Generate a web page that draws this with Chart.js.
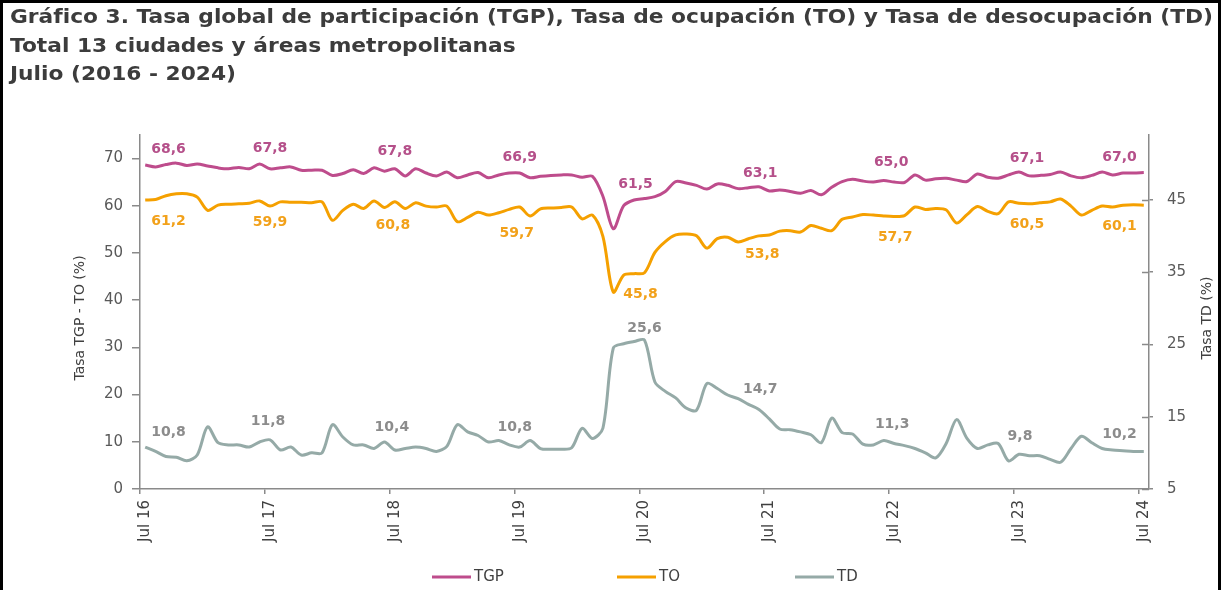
<!DOCTYPE html>
<html lang="es">
<head>
<meta charset="utf-8">
<title>Gráfico 3 - TGP, TO y TD</title>
<script src="https://cdn.jsdelivr.net/npm/chart.js@4.4.1/dist/chart.umd.min.js"></script>
<style>
  html, body { margin: 0; padding: 0; background: #fff; }
  #frame {
    position: absolute; left: 0; top: 0;
    width: 1215px; height: 587px;
    border: 3px solid #000; border-bottom: none;
  }
  canvas { display: block; }
</style>
</head>
<body>
<div id="frame"><canvas id="chart" width="1215" height="587"></canvas></div>
<script>
// Monthly series, Jul 16 .. Jul 24 (13 ciudades y áreas metropolitanas)
const months = ["Jul", "Ago", "Sep", "Oct", "Nov", "Dic", "Ene", "Feb", "Mar", "Abr", "May", "Jun"]

const tgp = [
  68.6, 68.2, 68.7, 69.0, 68.5, 68.8, 68.4, 68.0, 67.8, 68.1, 67.8, 68.8,
  67.8, 68.0, 68.2, 67.5, 67.5, 67.5, 66.4, 66.8, 67.6, 66.8, 68.0, 67.3,
  67.8, 66.3, 67.8, 66.9, 66.3, 67.1, 65.9, 66.5, 67.0, 65.9, 66.5, 66.9,
  66.9, 65.9, 66.2, 66.4, 66.5, 66.5, 66.0, 66.2, 62.0, 55.1, 60.0, 61.2,
  61.5, 61.9, 63.0, 65.1, 64.8, 64.3, 63.5, 64.6, 64.3, 63.6, 63.8, 64.0,
  63.1, 63.3, 63.0, 62.6, 63.2, 62.3, 63.9, 65.1, 65.6, 65.2, 65.0, 65.3,
  65.0, 64.9, 66.5, 65.4, 65.7, 65.8, 65.4, 65.1, 66.7, 66.0, 65.8, 66.5,
  67.1, 66.3, 66.4, 66.6, 67.1, 66.3, 65.9, 66.4, 67.1, 66.5, 66.9, 66.9,
  67.0
]

const to = [
  61.2, 61.3, 62.1, 62.5, 62.5, 61.8, 59.0, 60.1, 60.3, 60.4, 60.5, 61.0,
  59.9, 60.8, 60.7, 60.7, 60.6, 60.8, 56.9, 59.0, 60.3, 59.4, 61.0, 59.6,
  60.8, 59.4, 60.6, 59.9, 59.7, 59.9, 56.6, 57.5, 58.6, 58.0, 58.5, 59.2,
  59.7, 57.8, 59.3, 59.5, 59.6, 59.7, 57.2, 58.0, 53.5, 41.7, 45.3, 45.6,
  45.8, 50.1, 52.4, 53.8, 54.0, 53.6, 51.0, 53.0, 53.3, 52.3, 53.0, 53.6,
  53.8, 54.6, 54.7, 54.4, 55.8, 55.2, 54.7, 57.1, 57.6, 58.1, 58.0, 57.8,
  57.7, 57.9, 59.7, 59.2, 59.4, 59.1, 56.3, 58.1, 59.8, 58.8, 58.3, 60.8,
  60.5, 60.4, 60.6, 60.8, 61.4, 59.9, 58.0, 59.0, 59.9, 59.7, 60.1, 60.2,
  60.1
]

const td = [
  10.8, 10.2, 9.5, 9.4, 8.9, 9.7, 13.6, 11.4, 11.1, 11.1, 10.8, 11.5,
  11.8, 10.4, 10.8, 9.7, 10.0, 10.0, 13.9, 12.2, 11.1, 11.1, 10.6, 11.5,
  10.4, 10.6, 10.8, 10.6, 10.2, 10.9, 13.9, 12.9, 12.4, 11.5, 11.7, 11.1,
  10.8, 11.7, 10.6, 10.5, 10.5, 10.7, 13.4, 12.0, 13.4, 24.5, 25.1, 25.4,
  25.6, 19.8, 18.5, 17.6, 16.2, 15.9, 19.6, 18.9, 18.0, 17.5, 16.7, 16.0,
  14.7, 13.3, 13.2, 12.9, 12.5, 11.4, 14.8, 12.8, 12.6, 11.2, 11.1, 11.7,
  11.3, 11.0, 10.6, 10.0, 9.3, 11.3, 14.6, 12.0, 10.6, 11.1, 11.3, 8.9,
  9.8, 9.6, 9.6, 9.1, 8.7, 10.6, 12.3, 11.4, 10.6, 10.4, 10.3, 10.2,
  10.2
]

const leftTicks = [0, 10, 20, 30, 40, 50, 60, 70]
const rightTicks = [5, 15, 25, 35, 45]

// category labels, one per month
const categories = tgp.map((v, i) => months[i % 12] + " " + (16 + Math.floor((i + 6) / 12)))

const titleLines = [
  "Gráfico 3. Tasa global de participación (TGP), Tasa de ocupación (TO) y Tasa de desocupación (TD)",
  "Total 13 ciudades y áreas metropolitanas",
  "Julio (2016 - 2024)",
]

// label offsets (px) for the July data labels: [dx, dy]
const tgpLabelPos = [[0, -16], [0, -20], [0, -17], [0, -16], [-9, -14], [-9, -18], [-3, -20], [8, -14], [0, -15]]
const toLabelPos = [[0, 21], [0, 16], [-2, 24], [-3, 26], [-4, 22], [-7, 19], [1, 21], [8, 21], [0, 21]]
const tdLabelPos = [[0, -15], [-2, -18], [-3, -23], [-5, -20], [0, -12], [-9, -30], [-2, -19], [1, -18], [0, -17]]

const FONT = "'DejaVu Sans', sans-serif"
const AXIS = "#8a8a8a"
const colors = { tgp: "#BE4C8C", to: "#F5A000", td: "#95AAA7" }
const labelColors = { tgp: "#B5508A", to: "#F2A11A", td: "#8C8C8C" }

const decor = {
  id: "decor",
  afterDatasetsDraw(chart) {
    const ctx = chart.ctx
    const specs = [
      { ds: 0, pos: tgpLabelPos, color: labelColors.tgp },
      { ds: 1, pos: toLabelPos, color: labelColors.to },
      { ds: 2, pos: tdLabelPos, color: labelColors.td },
    ]
    ctx.save()
    ctx.font = "bold 14px " + FONT
    ctx.textBaseline = "middle"
    specs.forEach((s) => {
      const meta = chart.getDatasetMeta(s.ds)
      const values = chart.data.datasets[s.ds].data
      let k = 0
      for (let i = 0; i < values.length; i += 12) {
        const pt = meta.data[i]
        const [dx, dy] = s.pos[k++]
        let x = pt.x + dx
        ctx.textAlign = "center"
        if (i === 0) { ctx.textAlign = "left"; x = pt.x + 6 }
        if (i === values.length - 1) { ctx.textAlign = "right"; x = pt.x - 7 }
        ctx.fillStyle = s.color
        ctx.fillText(values[i].toFixed(1).replace(".", ","), x, pt.y + dy)
      }
    })
    ctx.restore()
  },
  afterDraw(chart) {
    const ctx = chart.ctx
    const area = chart.chartArea
    const y2 = chart.scales.y2
    ctx.save()

    // title, stretched a little to the width of the original
    ctx.fillStyle = "#3c3c3c"
    ctx.font = "bold 19px " + FONT
    ctx.textAlign = "left"
    ctx.textBaseline = "middle"
    const sx = 1203 / ctx.measureText(titleLines[0]).width
    const titleY = [15, 44, 72]
    titleLines.forEach((line, i) => {
      ctx.save()
      ctx.translate(7, titleY[i])
      ctx.scale(sx, 1)
      ctx.fillText(line, 0, 0)
      ctx.restore()
    })

    // inner part of the right axis tick marks
    ctx.strokeStyle = AXIS
    ctx.lineWidth = 1.5
    rightTicks.forEach((v) => {
      const py = Math.round(y2.getPixelForValue(v)) + 0.5
      ctx.beginPath()
      ctx.moveTo(area.right - 7, py)
      ctx.lineTo(area.right, py)
      ctx.stroke()
    })

    // axis titles, both read bottom to top
    ctx.fillStyle = "#404040"
    ctx.font = "14px " + FONT
    ctx.textAlign = "center"
    const midY = 315
    ctx.save()
    ctx.translate(77, midY)
    ctx.rotate(-Math.PI / 2)
    ctx.fillText("Tasa TGP - TO (%)", 0, 0)
    ctx.restore()
    ctx.save()
    ctx.translate(1204, midY)
    ctx.rotate(-Math.PI / 2)
    ctx.fillText("Tasa TD (%)", 0, 0)
    ctx.restore()

    // legend
    const items = [
      { text: "TGP", color: colors.tgp, x: 429 },
      { text: "TO", color: colors.to, x: 614 },
      { text: "TD", color: colors.td, x: 792 },
    ]
    const ly = 574
    ctx.font = "15px " + FONT
    ctx.textAlign = "left"
    items.forEach((it) => {
      ctx.strokeStyle = it.color
      ctx.lineWidth = 3
      ctx.beginPath()
      ctx.moveTo(it.x, ly)
      ctx.lineTo(it.x + 39, ly)
      ctx.stroke()
      ctx.fillStyle = "#404040"
      ctx.fillText(it.text, it.x + 42, ly)
    })
    ctx.restore()
  },
}

new Chart(document.getElementById("chart"), {
  type: "line",
  data: {
    labels: categories,
    datasets: [
      { label: "TGP", data: tgp, yAxisID: "y", borderColor: colors.tgp, borderWidth: 3, pointRadius: 0, tension: 0.3 },
      { label: "TO", data: to, yAxisID: "y", borderColor: colors.to, borderWidth: 3, pointRadius: 0, tension: 0.3 },
      { label: "TD", data: td, yAxisID: "y2", borderColor: colors.td, borderWidth: 3, pointRadius: 0, tension: 0.3 },
    ],
  },
  options: {
    responsive: false,
    animation: false,
    devicePixelRatio: 1,
    layout: { padding: { left: 7, right: 0, top: 4, bottom: 30 } },
    plugins: {
      legend: { display: false },
      tooltip: { enabled: false },
      // keeps the space for the title; the text itself is drawn by the decor plugin
      title: {
        display: true,
        align: "start",
        color: "rgba(0,0,0,0)",
        text: titleLines,
        font: { family: FONT, size: 19, weight: "bold", lineHeight: 1.47 },
        padding: { top: 0, bottom: 44 },
      },
    },
    scales: {
      x: {
        type: "category",
        offset: true,
        grid: {
          offset: true,
          drawOnChartArea: false,
          tickLength: 5,
          lineWidth: 1.5,
          color: (c) => (c.index % 12 === 0 ? AXIS : "rgba(0,0,0,0)"),
        },
        border: { display: true, color: AXIS, width: 1.5 },
        ticks: {
          autoSkip: false,
          minRotation: 90,
          maxRotation: 90,
          padding: 6,
          color: "#404040",
          font: { family: FONT, size: 15 },
          callback: function (v, i) {
            return i % 12 === 0 ? this.getLabelForValue(v) : ""
          },
        },
        afterFit: (s) => { s.height = 71 },
      },
      y: {
        position: "left",
        min: 0,
        max: 75,
        afterBuildTicks: (s) => { s.ticks = leftTicks.map((v) => ({ value: v })) },
        grid: { drawOnChartArea: false, tickLength: 8, lineWidth: 1.5, color: AXIS },
        border: { display: true, color: AXIS, width: 1.5 },
        ticks: { color: "#595959", padding: 9, font: { family: FONT, size: 15 } },
        afterFit: (s) => { s.width = 130 },
      },
      y2: {
        position: "right",
        min: 5,
        max: 54,
        afterBuildTicks: (s) => { s.ticks = rightTicks.map((v) => ({ value: v })) },
        grid: { drawOnChartArea: false, tickLength: 4, lineWidth: 1.5, color: AXIS },
        border: { display: true, color: AXIS, width: 1.5 },
        ticks: { color: "#595959", padding: 14, font: { family: FONT, size: 15 } },
        afterFit: (s) => { s.width = 69 },
      },
    },
  },
  plugins: [decor],
})
</script>
</body>
</html>
